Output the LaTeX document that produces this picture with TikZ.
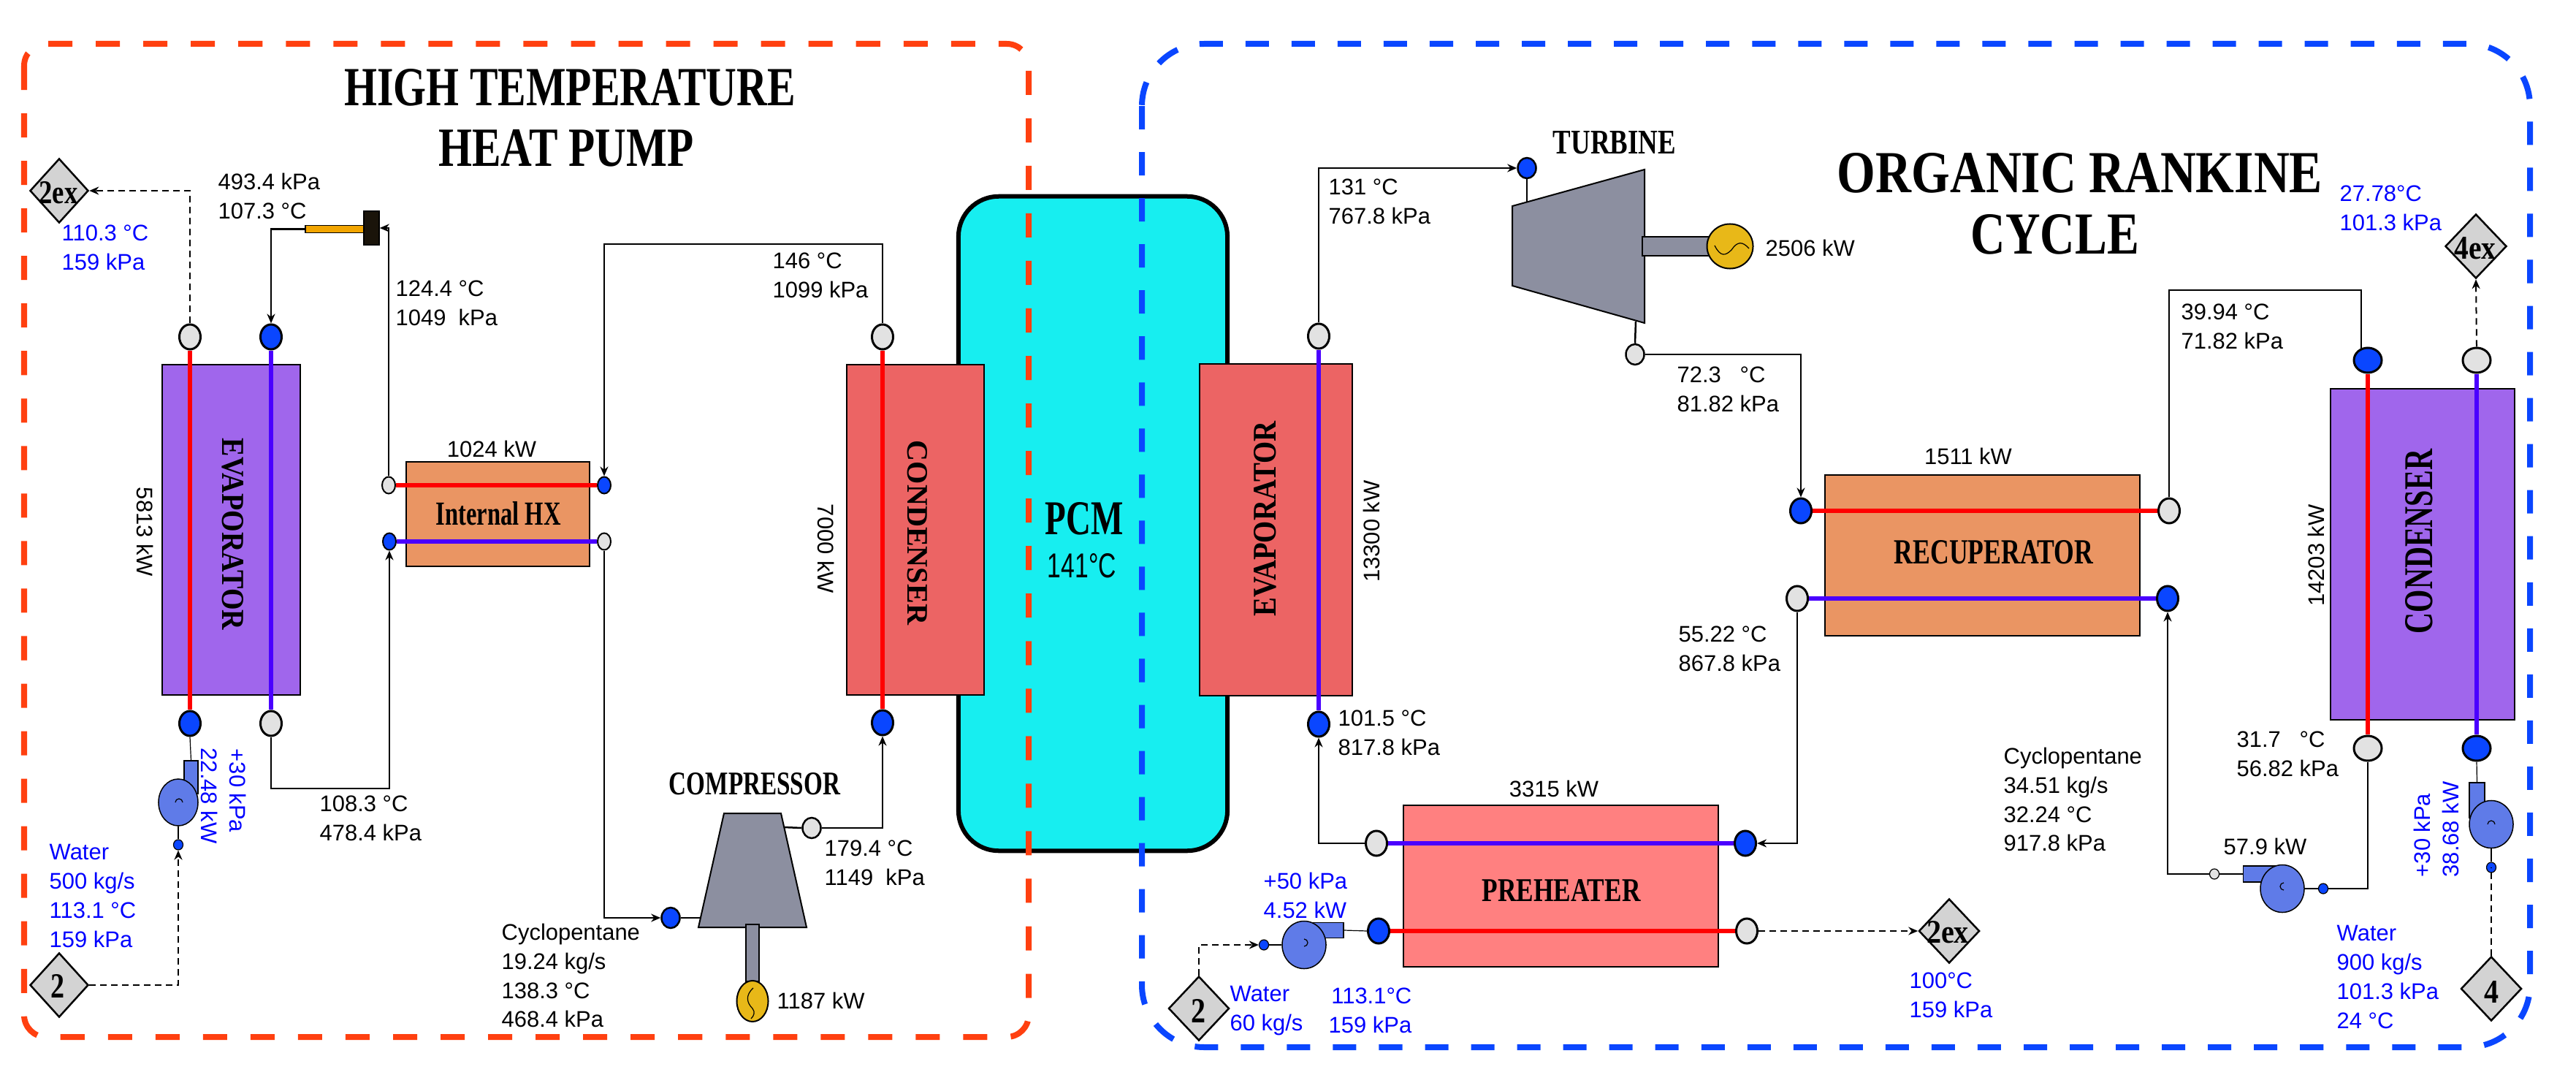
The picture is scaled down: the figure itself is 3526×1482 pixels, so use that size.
\documentclass[tikz,border=0pt]{standalone}
\usepackage{fontspec}
\setmainfont{Liberation Sans}
\newfontfamily\hfont{Liberation Serif}
\usepackage{tikz}
\usetikzlibrary{arrows.meta, positioning, shapes.geometric}
\definecolor{hpred}{HTML}{FF4010}
\definecolor{orcblue}{HTML}{0A46FF}
\definecolor{pcmcol}{HTML}{17EEF0}
\definecolor{evapcol}{HTML}{A066EC}
\definecolor{condcol}{HTML}{EC6464}
\definecolor{hxcol}{HTML}{EA9563}
\definecolor{preheatcol}{HTML}{FF8080}
\definecolor{machcol}{HTML}{8C8FA0}
\definecolor{gencol}{HTML}{E8B818}
\definecolor{pumpcol}{HTML}{5F7BE8}
\definecolor{valvecol}{HTML}{F2A500}
\definecolor{blockcol}{HTML}{1A140A}
\definecolor{portgray}{HTML}{E2E2E2}
\definecolor{violetline}{HTML}{4A00FF}
\definecolor{valuecol}{HTML}{0000FF}
\definecolor{tagcol}{HTML}{D3D3D3}
% resized serif captions: width, height, text
\newcommand{\unitlabel}[3]{\resizebox{#1}{#2}{\hfont\bfseries #3}}

\begin{document}
\begin{tikzpicture}[x=0.01cm, y=-0.01cm, >={Stealth[length=0.13cm,width=0.11cm]},
    % units and equipment
    unit/.style={draw, line width=0.025cm, inner sep=0pt},
    pcmbox/.style={draw, line width=0.06cm, fill=pcmcol, rounded corners=0.55cm, inner sep=0pt, minimum width=3.68cm, minimum height=8.95cm},
    mach/.style={draw, line width=0.02cm, fill=machcol},
    gen/.style={ellipse, draw, line width=0.02cm, fill=gencol, inner sep=0pt},
    pump/.style={ellipse, draw, line width=0.015cm, fill=pumpcol, inner sep=0pt, minimum width=0.6cm, minimum height=0.65cm},
    pumpout/.style={rectangle, draw, line width=0.015cm, fill=pumpcol, inner sep=0pt},
    tag/.style={diamond, draw, line width=0.025cm, fill=tagcol, inner sep=0pt, minimum width=0.8cm, minimum height=0.88cm},
    % ports
    port/.style={ellipse, draw, line width=0.03cm, inner sep=0pt, minimum width=0.29cm, minimum height=0.34cm},
    portW/.style={port, minimum width=0.38cm},
    portM/.style={port, line width=0.025cm, minimum width=0.25cm, minimum height=0.28cm},
    portS/.style={port, line width=0.02cm, minimum width=0.18cm, minimum height=0.23cm},
    portT/.style={port, line width=0.012cm, minimum width=0.13cm, minimum height=0.14cm},
    % lines
    flow/.style={draw, line width=0.025cm},
    water/.style={draw, line width=0.02cm, dash pattern=on 0.09cm off 0.06cm},
    hotline/.style={draw=red, line width=0.06cm},
    coldline/.style={draw=violetline, line width=0.06cm},
    thinline/.style={draw, line width=0.012cm},
    % texts
    lab/.style={font=\fontsize{8.8}{11.35}\selectfont, align=left, inner sep=0pt, anchor=west},
    vallab/.style={lab, text=valuecol},
    heading/.style={inner sep=0pt}]

    \useasboundingbox (0,0) rectangle (3526,1482);

    % PCM storage and the two cycle frames
    \node[pcmbox] (pcm) at (1496,716.5) {};
    \draw[draw=hpred, line width=0.08cm, dash pattern=on 0.33cm off 0.32cm, rounded corners=0.3cm] (33,60) rectangle (1408,1419);
    \draw[draw=orcblue, line width=0.08cm, dash pattern=on 0.32cm off 0.31cm, rounded corners=0.85cm] (1563,60) rectangle (3463,1433);
    \node[heading] (pcmT) at (1484,710) {\unitlabel{1.07cm}{0.44cm}{PCM}};
    \node[heading] (pcmV) at (1481,774) {\resizebox{0.94cm}{0.33cm}{141°C}};

    % titles
    \node[heading] (titleA) at (780,120) {\unitlabel{6.17cm}{0.5cm}{HIGH TEMPERATURE}};
    \node[heading] (titleB) at (775,203) {\unitlabel{3.49cm}{0.5cm}{HEAT PUMP}};
    \node[heading] (titleC) at (2847,237) {\unitlabel{6.64cm}{0.54cm}{ORGANIC RANKINE}};
    \node[heading] (titleD) at (2813,321) {\unitlabel{2.3cm}{0.54cm}{CYCLE}};

    % heat pump: exchangers
    \node[unit, fill=evapcol, minimum width=1.89cm, minimum height=4.52cm] (evapL) at (316.5,725) {};
    \node[unit, fill=hxcol, minimum width=2.51cm, minimum height=1.43cm] (ihx) at (681.5,703.5) {};
    \node[unit, fill=condcol, minimum width=1.88cm, minimum height=4.52cm] (condL) at (1253,725) {};

    % heat pump: ports
    \node[port, fill=portgray] (pLa) at (260,461) {};
    \node[port, fill=orcblue] (pLb) at (371,461) {};
    \node[port, fill=orcblue] (pLc) at (260,990) {};
    \node[port, fill=portgray] (pLd) at (371,990) {};
    \node[portS, fill=portgray] (hxA) at (532,664) {};
    \node[portS, fill=orcblue] (hxB) at (827,664) {};
    \node[portS, fill=orcblue] (hxC) at (533,741) {};
    \node[portS, fill=portgray] (hxD) at (827,741) {};
    \node[port, fill=portgray] (pCa) at (1208,461) {};
    \node[port, fill=orcblue] (pCb) at (1208,989) {};
    \node[portM, fill=orcblue] (pCin) at (918,1256) {};
    \node[portM, fill=portgray] (pCout) at (1111,1133) {};

    % heat pump: streams inside the exchangers
    \draw[hotline] (pLa.south) -- (pLc.north);
    \draw[coldline] (pLb.south) -- (pLd.north);
    \draw[hotline] (hxA.east) -- (hxB.west);
    \draw[coldline] (hxC.east) -- (hxD.west);
    \draw[hotline] (pCa.south) -- (pCb.north);

    % heat pump: valve
    \node[unit, line width=0.015cm, fill=valvecol, minimum width=0.8cm, minimum height=0.1cm] (valveA) at (458,313.5) {};
    \node[unit, line width=0.015cm, fill=blockcol, minimum width=0.21cm, minimum height=0.46cm] (valveB) at (508.5,312) {};

    % heat pump: compressor with drive
    \draw[mach] (991,1113) -- (1069,1113) -- (1104,1269) -- (956,1269) -- cycle;
    \coordinate (compIn) at (958,1256);
    \coordinate (compOut) at (1073,1132);
    \node[unit, line width=0.015cm, fill=machcol, minimum width=0.18cm, minimum height=0.78cm] (shaftC) at (1030,1304) {};
    \node[gen, minimum width=0.43cm, minimum height=0.56cm] (genC) at (1030,1370) {};
    \draw[thinline] (1031,1352) .. controls (1020,1362) and (1022,1372) .. (1030,1380) .. controls (1034,1385) and (1032,1390) .. (1028,1394);

    % heat pump: water pump
    \node[pumpout, minimum width=0.19cm, minimum height=0.45cm] (pmLo) at (261.5,1063.5) {};
    \node[pump, minimum width=0.54cm, minimum height=0.64cm] (pmL) at (244,1098) {};
    \draw[thinline] (240,1098) arc[start angle=180, end angle=0, radius=0.05cm];
    \node[portT, fill=orcblue] (pmLi) at (244,1156) {};
    \node[tag] (tagA) at (81,261) {};
    \node[tag] (tagB) at (81,1348) {};
    \node[heading] (tagAT) at (80,264) {\unitlabel{0.53cm}{0.3cm}{2ex}};
    \node[heading] (tagBT) at (79,1349) {\unitlabel{0.19cm}{0.32cm}{2}};

    % heat pump: connections
    \draw[water, ->] (pLa.north) |- (tagA.east);
    \draw[flow, ->] (valveA.west) -| (pLb.north);
    \draw[flow, ->] (hxA.north) |- (valveB.east);
    \coordinate (hxLow) at (533,1079);
    \draw[flow, ->] (pLd.south) |- (hxLow) -- (hxC.south);
    \coordinate (hpTop) at (827,334);
    \draw[flow, ->] (pCa.north) |- (hpTop) -- (hxB.north);
    \draw[flow, ->] (hxD.south) |- (pCin.west);
    \draw[flow] (pCin.east) -- (compIn);
    \draw[flow] (compOut) -- (pCout.west);
    \draw[flow, ->] (pCout.east) -| (pCb.south);
    \draw[thinline] (pLc.south) -- (pmLo.north);
    \draw[thinline] (pmL.south) -- (pmLi.north);
    \draw[water, ->] (tagB.east) -| (pmLi.south);

    % heat pump: captions and values
    \node[heading, rotate=-90] (evapLT) at (319,731) {\unitlabel{2.62cm}{0.29cm}{EVAPORATOR}};
    \node[heading, rotate=-90] (condLT) at (1256,729) {\unitlabel{2.52cm}{0.27cm}{CONDENSER}};
    \node[heading] (ihxT) at (682,703) {\unitlabel{1.71cm}{0.32cm}{Internal HX}};
    \node[heading] (compT) at (1033,1073) {\unitlabel{2.34cm}{0.3cm}{COMPRESSOR}};
    \node[lab, anchor=center, rotate=-90] (qA) at (199,728) {5813 kW};
    \node[lab, anchor=center, rotate=-90] (qB) at (1131,751) {7000 kW};
    \node[lab, anchor=center] (qC) at (673,614) {1024 kW};
    \node[lab] (qD) at (1063,1369) {1187 kW};
    \node[lab] (sA) at (298,268) {493.4 kPa\\107.3 °C};
    \node[lab] (sB) at (541,415) {124.4 °C\\1049\ \ kPa};
    \node[lab] (sC) at (437,1120) {108.3 °C\\478.4 kPa};
    \node[lab] (sD) at (1057,377) {146 °C\\1099 kPa};
    \node[lab] (sE) at (1128,1181) {179.4 °C\\1149\ \ kPa};
    \node[lab] (sF) at (686,1335) {Cyclopentane\\19.24 kg/s\\138.3 °C\\468.4 kPa};
    \node[vallab] (wA) at (84,339) {110.3 °C\\159 kPa};
    \node[vallab] (wB) at (67,1226) {Water\\500 kg/s\\113.1 °C\\159 kPa};
    \node[vallab, anchor=center, rotate=-90] (wC) at (326,1082) {+30 kPa};
    \node[vallab, anchor=center, rotate=-90] (wD) at (287,1089) {22.48 kW};

    % rankine cycle: exchangers
    \node[unit, fill=condcol, minimum width=2.09cm, minimum height=4.54cm] (evapR) at (1746.5,725) {};
    \node[unit, fill=hxcol, minimum width=4.31cm, minimum height=2.2cm] (recup) at (2713.5,760) {};
    \node[unit, fill=preheatcol, minimum width=4.31cm, minimum height=2.21cm] (preh) at (2136.5,1212.5) {};
    \node[unit, fill=evapcol, minimum width=2.52cm, minimum height=4.53cm] (condR) at (3316,758.5) {};

    % rankine cycle: ports
    \node[port, fill=portgray] (pEa) at (1805,460) {};
    \node[port, fill=orcblue] (pEb) at (1805,991) {};
    \node[port, fill=portgray] (pRa) at (2969,699) {};
    \node[port, fill=orcblue] (pRb) at (2465,699) {};
    \node[port, fill=portgray] (pRc) at (2460,819) {};
    \node[port, fill=orcblue] (pRd) at (2967,819) {};
    \node[port, fill=portgray] (pPa) at (1884,1154) {};
    \node[port, fill=orcblue] (pPb) at (2389,1154) {};
    \node[port, fill=orcblue] (pPc) at (1887,1274) {};
    \node[port, fill=portgray] (pPd) at (2391,1274) {};
    \node[portW, fill=orcblue] (pKa) at (3241,493) {};
    \node[portW, fill=portgray] (pKb) at (3390,493) {};
    \node[portW, fill=portgray] (pKc) at (3241,1024) {};
    \node[portW, fill=orcblue] (pKd) at (3390,1024) {};
    \node[portM, fill=orcblue] (pTin) at (2090,230) {};
    \node[portM, fill=portgray] (pTout) at (2238,485) {};

    % rankine cycle: streams inside the exchangers
    \draw[coldline] (pEa.south) -- (pEb.north);
    \draw[hotline] (pRb.east) -- (pRa.west);
    \draw[coldline] (pRc.east) -- (pRd.west);
    \draw[coldline] (pPa.east) -- (pPb.west);
    \draw[hotline] (pPc.east) -- (pPd.west);
    \draw[hotline] (pKa.south) -- (pKc.north);
    \draw[coldline] (pKb.south) -- (pKd.north);

    % rankine cycle: turbine with generator
    \draw[mach] (2070,282) -- (2251,232) -- (2251,442) -- (2070,391) -- cycle;
    \coordinate (turbIn) at (2090,277);
    \coordinate (turbOut) at (2239,440);
    \node[unit, line width=0.015cm, fill=machcol, minimum width=0.92cm, minimum height=0.26cm] (shaftT) at (2294,337) {};
    \node[gen, minimum width=0.63cm, minimum height=0.61cm] (genT) at (2368,337) {};
    \draw[thinline] (2347,336) .. controls (2355,352) and (2362,350) .. (2370,342) .. controls (2378,330) and (2385,330) .. (2394,340);

    % rankine cycle: pumps
    \node[pumpout, minimum width=0.44cm, minimum height=0.21cm] (pmPo) at (1817,1273) {};
    \node[pump] (pmP) at (1785,1293) {};
    \draw[thinline] (1785,1285) arc[start angle=90, end angle=-90, radius=0.05cm];
    \node[portT, fill=orcblue] (pmPi) at (1730,1293) {};
    \node[pumpout, minimum width=0.53cm, minimum height=0.22cm] (pmCo) at (3097,1196) {};
    \node[pump] (pmC) at (3124,1216) {};
    \draw[thinline] (3126,1208) arc[start angle=90, end angle=270, radius=0.05cm];
    \node[portT, fill=orcblue] (pmCi) at (3180,1216) {};
    \node[portT, fill=portgray] (pmCe) at (3031,1196) {};
    \node[pumpout, minimum width=0.21cm, minimum height=0.48cm] (pmRo) at (3390.5,1095) {};
    \node[pump] (pmR) at (3410,1128) {};
    \draw[thinline] (3405,1128) arc[start angle=180, end angle=0, radius=0.05cm];
    \node[portT, fill=orcblue] (pmRi) at (3410,1187) {};

    % rankine cycle: stream tags
    \node[tag, minimum width=0.83cm] (tagC) at (1641,1380) {};
    \node[tag, minimum width=0.83cm] (tagD) at (2668,1274) {};
    \node[tag, minimum width=0.84cm] (tagE) at (3389,337) {};
    \node[tag, minimum width=0.83cm] (tagF) at (3410,1353) {};
    \node[heading] (tagCT) at (1640,1383) {\unitlabel{0.2cm}{0.32cm}{2}};
    \node[heading] (tagDT) at (2666,1276) {\unitlabel{0.58cm}{0.3cm}{2ex}};
    \node[heading] (tagET) at (3388,340) {\unitlabel{0.57cm}{0.3cm}{4ex}};
    \node[heading] (tagFT) at (3410,1357) {\unitlabel{0.2cm}{0.3cm}{4}};

    % rankine cycle: connections
    \draw[flow, ->] (pEa.north) |- (pTin.west);
    \draw[flow] (pTin.south) -- (turbIn);
    \draw[flow] (turbOut) -- (pTout.north);
    \draw[flow, ->] (pTout.east) -| (pRb.north);
    \coordinate (rcTop) at (3232,397);
    \coordinate (rcEnd) at (3232,479);
    \draw[flow] (pRa.north) |- (rcTop) -- (rcEnd);
    \draw[flow, ->] (pRc.south) |- (pPb.east);
    \draw[flow, ->] (pPa.west) -| (pEb.south);
    \draw[water, ->] (pPd.east) -- (tagD.west);
    \draw[thinline] (pmPo.east) -- (pPc.west);
    \draw[thinline] (pmPi.east) -- (pmP.west);
    \draw[water, ->] (tagC.north) |- (pmPi.west);
    \draw[flow] (pKc.south) |- (pmCi.east);
    \draw[thinline] (pmCi.west) -- (pmC.east);
    \draw[thinline] (pmCe.east) -- (pmCo.west);
    \draw[flow, ->] (pmCe.west) -| (pRd.south);
    \draw[water, ->] (pKb.north) -- (tagE.south);
    \draw[thinline] (pKd.south) -- (pmRo.north);
    \draw[thinline] (pmR.south) -- (pmRi.north);
    \draw[water] (tagF.north) -- (pmRi.center);

    % rankine cycle: captions and values
    \node[heading, rotate=90] (evapRT) at (1732,710) {\unitlabel{2.67cm}{0.3cm}{EVAPORATOR}};
    \node[heading, rotate=90] (condRT) at (3311,741) {\unitlabel{2.52cm}{0.37cm}{CONDENSER}};
    \node[heading] (turbT) at (2210,195) {\unitlabel{1.68cm}{0.31cm}{TURBINE}};
    \node[heading] (recupT) at (2729,756) {\unitlabel{2.72cm}{0.32cm}{RECUPERATOR}};
    \node[heading] (prehT) at (2137,1218) {\unitlabel{2.17cm}{0.3cm}{PREHEATER}};
    \node[lab, anchor=center, rotate=90] (qE) at (1877,727) {13300 kW};
    \node[lab, anchor=center, rotate=90] (qF) at (3170,760) {14203 kW};
    \node[lab, anchor=center] (qG) at (2694,624) {1511 kW};
    \node[lab, anchor=center] (qH) at (2127,1079) {3315 kW};
    \node[lab] (qI) at (2416,339) {2506 kW};
    \node[lab] (qJ) at (3043,1158) {57.9 kW};
    \node[lab] (tA) at (1818,276) {131 °C\\767.8 kPa};
    \node[lab] (tB) at (2295,533) {72.3\ \ \ °C\\81.82 kPa};
    \node[lab] (tC) at (2985,447) {39.94 °C\\71.82 kPa};
    \node[lab] (tD) at (2297,888) {55.22 °C\\867.8 kPa};
    \node[lab] (tE) at (1831,1003) {101.5 °C\\817.8 kPa};
    \node[lab] (tF) at (3061,1032) {31.7\ \ \ °C\\56.82 kPa};
    \node[lab] (tG) at (2742,1094) {Cyclopentane\\34.51 kg/s\\32.24 °C\\917.8 kPa};
    \node[vallab] (vA) at (3202,285) {27.78°C\\101.3 kPa};
    \node[vallab] (vB) at (1729,1225) {+50 kPa\\4.52 kW};
    \node[vallab] (vC) at (1683,1383) {Water\\60 kg/s};
    \node[vallab, align=right] (vD) at (1818,1383) {113.1°C\\159 kPa};
    \node[vallab] (vE) at (2613,1362) {100°C\\159 kPa};
    \node[vallab] (vF) at (3198,1337) {Water\\900 kg/s\\101.3 kPa\\24 °C};
    \node[vallab, anchor=center, rotate=90] (vG) at (3315,1143) {+30 kPa};
    \node[vallab, anchor=center, rotate=90] (vH) at (3354,1135) {38.68 kW};
\end{tikzpicture}
\end{document}
